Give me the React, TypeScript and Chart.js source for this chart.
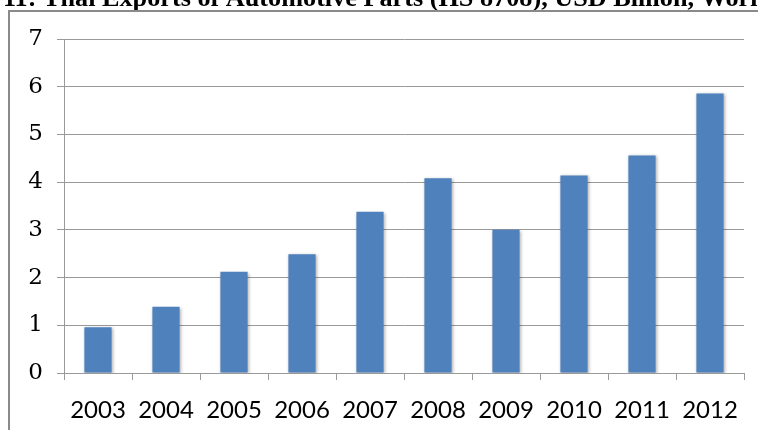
import React, { useEffect, useRef } from "react";
import { Chart, registerables } from "chart.js";

Chart.register(...registerables);

const categories = ["2003", "2004", "2005", "2006", "2007", "2008", "2009", "2010", "2011", "2012"];
const exportsUsdBillion = [0.96, 1.39, 2.12, 2.49, 3.38, 4.08, 3.0, 4.14, 4.56, 5.86];
const yTicks = [0, 1, 2, 3, 4, 5, 6, 7];
const titleText = "Figure 11: Thai Exports of Automotive Parts (HS 8708), USD Billion, World";

const framePlugin = {
  id: "frame",
  beforeDraw(chart: any) {
    const ctx = chart.ctx;
    ctx.save();
    ctx.fillStyle = "#ffffff";
    ctx.fillRect(0, 0, chart.width, chart.height);
    // cropped title
    ctx.fillStyle = "#000000";
    ctx.textBaseline = "alphabetic";
    ctx.textAlign = "left";
    ctx.font = "bold 100px 'Liberation Serif', 'Times New Roman', serif";
    const visible = "Thai Exports of Automotive Parts (HS 8708), USD Billion, Worl";
    const w100 = ctx.measureText(visible).width;
    const size = (715 / w100) * 100;
    ctx.font = `bold ${size}px 'Liberation Serif', 'Times New Roman', serif`;
    const prefixW = ctx.measureText("Figure 11: ").width;
    ctx.fillText(titleText, 43 - prefixW, 5.5);
    // outer frame (top and left)
    ctx.strokeStyle = "#8a8a8a";
    ctx.lineWidth = 2;
    ctx.beginPath();
    ctx.moveTo(9, chart.height);
    ctx.lineTo(9, 11);
    ctx.lineTo(chart.width, 11);
    ctx.stroke();
    ctx.restore();
  },
};

const shadowPlugin = {
  id: "barShadow",
  beforeDatasetsDraw(chart: any) {
    const ctx = chart.ctx;
    ctx.save();
    ctx.shadowColor = "rgba(0,0,0,0.3)";
    ctx.shadowBlur = 3;
    ctx.shadowOffsetX = 1;
    ctx.shadowOffsetY = 1;
  },
  afterDatasetsDraw(chart: any) {
    chart.ctx.restore();
  },
};

export default function App() {
  const ref = useRef<HTMLCanvasElement | null>(null);

  useEffect(() => {
    if (!ref.current) return;
    const chart = new Chart(ref.current, {
      type: "bar",
      data: {
        labels: categories,
        datasets: [
          {
            data: exportsUsdBillion,
            backgroundColor: "#4F81BD",
            borderWidth: 0,
            barPercentage: 0.4,
            categoryPercentage: 1,
          },
        ],
      },
      options: {
        animation: false,
        responsive: false,
        devicePixelRatio: 1,
        layout: { padding: { left: 0, right: 14, top: 39, bottom: 0 } },
        plugins: {
          legend: { display: false },
          tooltip: { enabled: false },
          title: { display: false },
        },
        scales: {
          x: {
            afterFit(scale: any) {
              scale.height = 57;
            },
            grid: {
              drawOnChartArea: false,
              drawTicks: true,
              tickLength: 7,
              color: "#9a9a9a",
            },
            border: { color: "#9a9a9a", width: 1 },
            ticks: {
              color: "#000000",
              padding: 16,
              font: { family: "Lato, 'Open Sans', sans-serif", size: 24 },
              maxRotation: 0,
              autoSkip: false,
            },
          },
          y: {
            min: 0,
            max: 7,
            afterFit(scale: any) {
              scale.width = 64;
            },
            afterBuildTicks(scale: any) {
              scale.ticks = yTicks.map((v) => ({ value: v }));
            },
            grid: {
              color: "#9a9a9a",
              tickLength: 7,
              drawTicks: true,
            },
            border: { color: "#9a9a9a", width: 1 },
            ticks: {
              color: "#000000",
              padding: 14,
              stepSize: 1,
              font: { family: "'DejaVu Serif', serif", size: 23 },
            },
          },
        },
      },
      plugins: [framePlugin, shadowPlugin],
    });
    return () => chart.destroy();
  }, []);

  return (
    <div style={{ position: "absolute", left: 0, top: 0, width: 758, height: 430 }}>
      <canvas ref={ref} width={758} height={430} style={{ display: "block" }} />
    </div>
  );
}
